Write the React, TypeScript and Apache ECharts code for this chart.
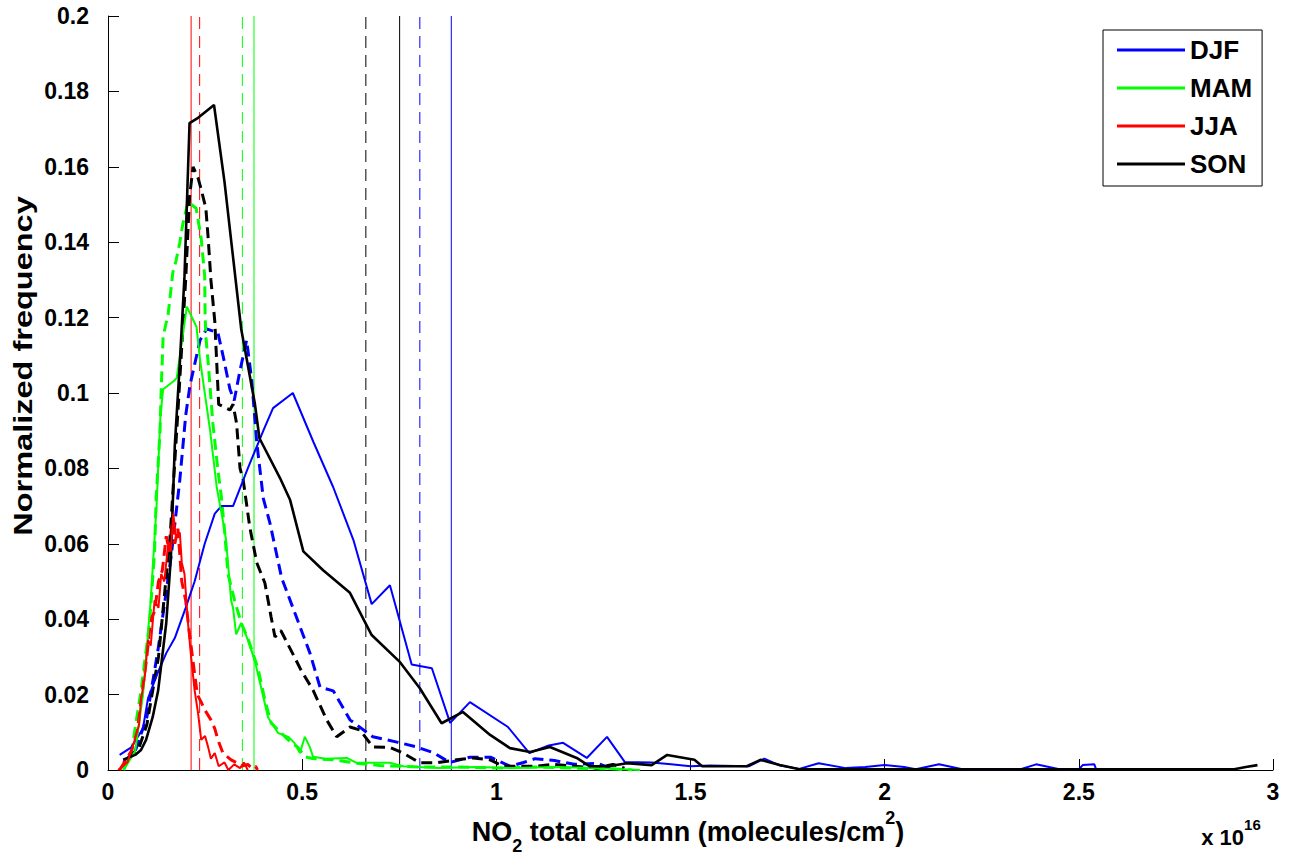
import React, { useEffect, useRef } from 'react';
import * as echarts from 'echarts';

const FONT = '"Liberation Sans", Arial, Helvetica, sans-serif';

const seasons = ['DJF', 'MAM', 'JJA', 'SON'];
const seasonColors = ['#0000ff', '#00ff00', '#ff0000', '#000000'];

// x in units of 1e16 molecules/cm2, y = normalized frequency
const djfSolid = [
  [0.03, 0.004], [0.06, 0.006], [0.09, 0.011], [0.103, 0.019], [0.129, 0.026], [0.15, 0.031],
  [0.172, 0.035], [0.2, 0.043], [0.223, 0.05], [0.249, 0.06], [0.275, 0.068], [0.292, 0.07],
  [0.322, 0.07], [0.36, 0.08], [0.4, 0.09], [0.425, 0.096], [0.476, 0.1], [0.529, 0.087],
  [0.58, 0.075], [0.632, 0.061], [0.679, 0.044], [0.726, 0.049], [0.782, 0.028], [0.834, 0.027],
  [0.881, 0.0125], [0.932, 0.018], [1.03, 0.0114], [1.085, 0.0045], [1.135, 0.0065], [1.172, 0.0072],
  [1.233, 0.0032], [1.285, 0.0088], [1.331, 0.0021], [1.4, 0.002], [1.45, 0.0015], [1.5, 0.001],
  [1.55, 0.0012], [1.65, 0.001], [1.69, 0.003], [1.73, 0.0012], [1.78, 0.0003], [1.83, 0.0018],
  [1.9, 0.0005], [1.95, 0.0008], [2.0, 0.0013], [2.05, 0.0008], [2.08, 0.0002], [2.14, 0.0015],
  [2.2, 0.0002], [2.35, 0.0002], [2.39, 0.0015], [2.45, 0.0002], [2.5, 0.0002], [2.51, 0.0013],
  [2.54, 0.0015], [2.545, 0],
];
const djfDashed = [
  [0.04, 0.002], [0.07, 0.005], [0.1, 0.014], [0.129, 0.032], [0.163, 0.057], [0.185, 0.077],
  [0.2, 0.094], [0.211, 0.102], [0.237, 0.114], [0.254, 0.117], [0.283, 0.116], [0.296, 0.11],
  [0.314, 0.101], [0.325, 0.098], [0.34, 0.106], [0.357, 0.114], [0.37, 0.1035], [0.383, 0.087],
  [0.4, 0.072], [0.417, 0.0655], [0.447, 0.051], [0.469, 0.045], [0.52, 0.031], [0.546, 0.022],
  [0.58, 0.021], [0.623, 0.0133], [0.682, 0.0088], [0.744, 0.0074], [0.795, 0.0061], [0.84, 0.0045],
  [0.88, 0.002], [0.932, 0.0034], [0.985, 0.0034], [1.035, 0.001], [1.07, 0.002], [1.1, 0.003],
  [1.15, 0.0025], [1.2, 0.0015], [1.26, 0.0018], [1.3, 0.0002],
];
const mamSolid = [
  [0.04, 0], [0.07, 0.005], [0.09, 0.02], [0.11, 0.045], [0.125, 0.07], [0.135, 0.094],
  [0.142, 0.101], [0.172, 0.1034], [0.177, 0.104], [0.203, 0.1229], [0.228, 0.1175], [0.237, 0.1088],
  [0.263, 0.09], [0.28, 0.075], [0.296, 0.066], [0.304, 0.061], [0.317, 0.045], [0.322, 0.043],
  [0.33, 0.036], [0.343, 0.039], [0.36, 0.0345], [0.378, 0.029], [0.394, 0.022], [0.412, 0.014],
  [0.438, 0.0098], [0.464, 0.0088], [0.48, 0.0072], [0.494, 0.0045], [0.507, 0.0088], [0.52, 0.006],
  [0.528, 0.0035], [0.56, 0.003], [0.615, 0.0032], [0.64, 0.0019], [0.726, 0.0019], [0.76, 0.001],
  [0.85, 0.0005], [0.95, 0.0008], [1.05, 0.0005], [1.15, 0.0008], [1.25, 0.0005], [1.37, 0],
];
const mamDashed = [
  [0.04, 0], [0.06, 0.0045], [0.085, 0.021], [0.107, 0.039], [0.12, 0.058], [0.124, 0.072],
  [0.134, 0.09], [0.137, 0.101], [0.142, 0.115], [0.155, 0.121], [0.167, 0.132], [0.175, 0.135],
  [0.185, 0.14], [0.193, 0.145], [0.206, 0.1507], [0.227, 0.149], [0.24, 0.141], [0.249, 0.131],
  [0.25, 0.121], [0.252, 0.115], [0.258, 0.108], [0.27, 0.092], [0.283, 0.0796], [0.292, 0.0724],
  [0.3, 0.0637], [0.309, 0.052], [0.326, 0.045], [0.343, 0.039], [0.36, 0.035], [0.386, 0.027],
  [0.404, 0.0186], [0.42, 0.0125], [0.438, 0.0106], [0.464, 0.008], [0.489, 0.006], [0.507, 0.0035],
  [0.53, 0.003], [0.58, 0.0027], [0.64, 0.0018], [0.7, 0.0012], [0.8, 0.0008], [0.9, 0.0008],
  [1.0, 0.0005], [1.1, 0.0008], [1.2, 0.0005], [1.3, 0.0003], [1.35, 0],
];
const jjaSolid = [
  [0.026, 0], [0.05, 0.002], [0.069, 0.008], [0.08, 0.012], [0.085, 0.0186], [0.095, 0.025],
  [0.103, 0.0345], [0.11, 0.033], [0.12, 0.045], [0.13, 0.043], [0.137, 0.052], [0.145, 0.05],
  [0.155, 0.06], [0.162, 0.058], [0.168, 0.068], [0.175, 0.062], [0.185, 0.063], [0.19, 0.055],
  [0.197, 0.052], [0.206, 0.039], [0.214, 0.03], [0.223, 0.0212], [0.232, 0.015], [0.24, 0.008],
  [0.25, 0.009], [0.258, 0.006], [0.265, 0.003], [0.275, 0.0045], [0.285, 0.001], [0.3, 0.002],
  [0.31, 0], [0.325, 0.0015], [0.34, 0.0005], [0.35, 0.002], [0.36, 0],
];
const jjaDashed = [
  [0.03, 0], [0.06, 0.005], [0.075, 0.01], [0.09, 0.022], [0.1, 0.03], [0.11, 0.04],
  [0.12, 0.042], [0.13, 0.05], [0.14, 0.053], [0.15, 0.062], [0.158, 0.058], [0.165, 0.066],
  [0.172, 0.06], [0.18, 0.064], [0.19, 0.05], [0.2, 0.045], [0.21, 0.036], [0.22, 0.028],
  [0.23, 0.02], [0.24, 0.018], [0.249, 0.016], [0.265, 0.0133], [0.275, 0.011], [0.283, 0.008],
  [0.296, 0.0045], [0.317, 0.0027], [0.33, 0.002], [0.343, 0.001], [0.36, 0.0015], [0.37, 0.0005],
  [0.38, 0.001], [0.385, 0],
];
const sonSolid = [
  [0.039, 0.0027], [0.07, 0.004], [0.085, 0.0053], [0.098, 0.008], [0.115, 0.014], [0.129, 0.021],
  [0.15, 0.039], [0.162, 0.0565], [0.172, 0.086], [0.185, 0.108], [0.197, 0.131], [0.21, 0.1716],
  [0.232, 0.173], [0.273, 0.1764], [0.3, 0.156], [0.343, 0.117], [0.378, 0.0973], [0.39, 0.088],
  [0.445, 0.077], [0.469, 0.0716], [0.503, 0.058], [0.554, 0.053], [0.623, 0.047], [0.679, 0.0358],
  [0.752, 0.0286], [0.803, 0.0217], [0.859, 0.0124], [0.914, 0.0154], [0.984, 0.0093], [1.035, 0.0058],
  [1.087, 0.0048], [1.138, 0.0061], [1.207, 0.0032], [1.24, 0.001], [1.29, 0.001], [1.336, 0.0018],
  [1.4, 0.0013], [1.44, 0.004], [1.51, 0.0027], [1.53, 0.001], [1.645, 0.001], [1.68, 0.0027],
  [1.73, 0.0013], [1.78, 0.0002], [2.9, 0.0002], [2.93, 0.0008], [2.96, 0.0013],
];
const sonDashed = [
  [0.05, 0.003], [0.08, 0.006], [0.1, 0.012], [0.13, 0.03], [0.16, 0.062], [0.18, 0.095],
  [0.2, 0.13], [0.21, 0.152], [0.219, 0.16], [0.232, 0.157], [0.24, 0.154], [0.252, 0.149],
  [0.258, 0.141], [0.265, 0.13], [0.275, 0.119], [0.28, 0.108], [0.285, 0.097], [0.314, 0.0955],
  [0.322, 0.097], [0.331, 0.092], [0.34, 0.08], [0.348, 0.077], [0.365, 0.0645], [0.383, 0.055],
  [0.404, 0.0496], [0.42, 0.0406], [0.43, 0.0353], [0.445, 0.037], [0.48, 0.03], [0.497, 0.0265],
  [0.528, 0.0212], [0.563, 0.0133], [0.589, 0.0088], [0.623, 0.0114], [0.649, 0.0106], [0.682, 0.0061],
  [0.726, 0.006], [0.76, 0.0045], [0.803, 0.0019], [0.846, 0.0019], [0.898, 0.0027], [0.94, 0.0032],
  [0.984, 0.0027], [1.018, 0.001], [1.1, 0.001], [1.15, 0.0015], [1.2, 0.001], [1.26, 0.0005],
  [1.3, 0.0015], [1.33, 0.0005],
];

// seasonal means (vertical lines)
const meanSolid = [0.884, 0.376, 0.214, 0.751];
const meanDashed = [0.803, 0.346, 0.236, 0.664];

const solidData = [djfSolid, mamSolid, jjaSolid, sonSolid];
const dashedData = [djfDashed, mamDashed, jjaDashed, sonDashed];

const xMin = 0, xMax = 3, xStep = 0.5;
const yMin = 0, yMax = 0.2, yStep = 0.02;

export default function App() {
  const ref = useRef<HTMLDivElement>(null);
  useEffect(() => {
    if (!ref.current) return;
    const chart = echarts.init(ref.current, undefined, { renderer: 'svg' });

    const series: any[] = [];
    // vertical mean lines
    seasons.forEach((s, i) => {
      series.push({
        name: s + ' mean', type: 'line', symbol: 'none', silent: true, z: 1,
        data: [[meanSolid[i], yMin], [meanSolid[i], yMax]],
        lineStyle: { color: seasonColors[i], width: 1 },
      });
      series.push({
        name: s + ' mean (dashed)', type: 'line', symbol: 'none', silent: true, z: 1,
        data: [[meanDashed[i], yMin], [meanDashed[i], yMax]],
        lineStyle: { color: seasonColors[i], width: 1, type: [12, 7] },
      });
    });
    const order = [0, 1, 3, 2];
    order.forEach((i) => {
      series.push({
        name: seasons[i] + ' (dashed)', type: 'line', symbol: 'none', z: 2,
        data: dashedData[i],
        lineStyle: { color: seasonColors[i], width: 3, type: [11, 6] },
      });
      series.push({
        name: seasons[i], type: 'line', symbol: 'none', z: 3,
        data: solidData[i],
        itemStyle: { color: seasonColors[i] },
        lineStyle: { color: seasonColors[i], width: i === 3 ? 2.6 : 2 },
      });
    });

    const labelFont = { fontFamily: FONT, fontWeight: 'bold' as const, fontSize: 23, color: '#000' };

    chart.setOption({
      animation: false,
      backgroundColor: '#fff',
      grid: { left: 108, right: 21, top: 16, bottom: 89, containLabel: false },
      legend: {
        data: seasons.map((s) => ({ name: s, icon: 'rect' })),
        orient: 'vertical',
        left: 1103, top: 30,
        itemWidth: 68, itemHeight: 3, itemGap: 12,
        padding: [7, 10, 9, 14],
        borderColor: '#000', borderWidth: 1, backgroundColor: '#fff',
        textStyle: { fontFamily: FONT, fontWeight: 'bold', fontSize: 26, color: '#000', lineHeight: 26 },
        selectedMode: false,
      },
      xAxis: {
        type: 'value', min: xMin, max: xMax, interval: xStep,
        axisLine: { lineStyle: { color: '#000', width: 1 } },
        axisTick: { inside: true, length: 11, lineStyle: { color: '#000' } },
        axisLabel: { ...labelFont, margin: 10, formatter: (v: number) => String(+v.toFixed(2)) },
        splitLine: { show: false },
      },
      yAxis: {
        type: 'value', min: yMin, max: yMax, interval: yStep,
        axisLine: { show: true, lineStyle: { color: '#000', width: 1 } },
        axisTick: { show: true, inside: true, length: 11, lineStyle: { color: '#000' } },
        axisLabel: { ...labelFont, margin: 19, formatter: (v: number) => String(+v.toFixed(2)) },
        splitLine: { show: false },
      },
      graphic: [
        {
          type: 'text', x: 23, y: 366, rotation: Math.PI / 2, scaleX: 1.3, scaleY: 1,
          style: {
            text: 'Normalized frequency', fill: '#000',
            font: `bold 25px ${FONT}`,
            align: 'center', verticalAlign: 'middle',
            textAlign: 'center', textVerticalAlign: 'middle',
          },
        },
        {
          type: 'text', x: 688, y: 832,
          style: {
            text: '{a|NO}{b|2}{a| total column (molecules/cm}{c|2}{a|)}',
            fill: '#000',
            align: 'center', verticalAlign: 'middle',
            textAlign: 'center', textVerticalAlign: 'middle',
            rich: {
              a: { fontFamily: FONT, fontWeight: 'bold', fontSize: 27, lineHeight: 46, fill: '#000' },
              b: { fontFamily: FONT, fontWeight: 'bold', fontSize: 18, verticalAlign: 'bottom', fill: '#000' },
              c: { fontFamily: FONT, fontWeight: 'bold', fontSize: 18, verticalAlign: 'top', fill: '#000' },
            },
          },
        },
        {
          type: 'text', x: 1231, y: 837,
          style: {
            text: '{a|x 10}{c|16}',
            fill: '#000',
            align: 'center', verticalAlign: 'middle',
            textAlign: 'center', textVerticalAlign: 'middle',
            rich: {
              a: { fontFamily: FONT, fontWeight: 'bold', fontSize: 22, lineHeight: 40, fill: '#000' },
              c: { fontFamily: FONT, fontWeight: 'bold', fontSize: 15, verticalAlign: 'top', fill: '#000' },
            },
          },
        },
      ],
      series,
    });
    return () => chart.dispose();
  }, []);
  return (
    <div
      ref={ref}
      style={{ position: 'fixed', left: 0, top: 0, width: 1294, height: 859, background: '#fff' }}
    />
  );
}
